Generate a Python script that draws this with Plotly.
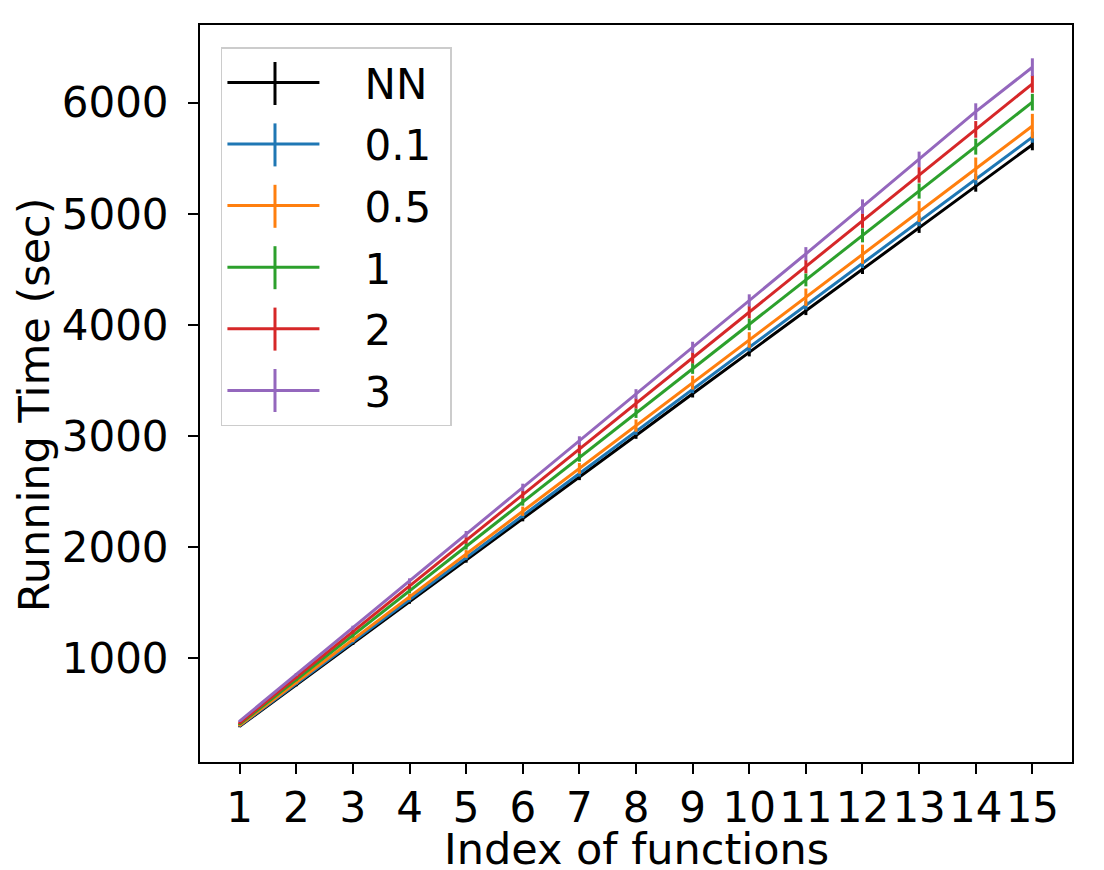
import plotly.graph_objects as go

# Laufzeit je Funktionsindex, eine Linie pro Einstellung (mit Fehlerbalken)
x_idx = list(range(1, 16))

series_names = ["NN", "0.1", "0.5", "1", "2", "3"]

nn_vals = [385, 758, 1133, 1507, 1881, 2256, 2630, 3004, 3379, 3752, 4126, 4500, 4873, 5247, 5622]
v01_vals = [390, 768, 1147, 1525, 1904, 2283, 2661, 3040, 3418, 3797, 4176, 4554, 4933, 5311, 5690]
v05_vals = [395, 781, 1166, 1551, 1937, 2322, 2708, 3093, 3480, 3864, 4249, 4636, 5020, 5405, 5790]
v1_vals = [405, 805, 1205, 1606, 2005, 2405, 2806, 3205, 3607, 4005, 4405, 4806, 5205, 5605, 6005]
v2_vals = [415, 826, 1237, 1648, 2059, 2470, 2881, 3292, 3703, 4114, 4525, 4938, 5350, 5760, 6170]
v3_vals = [432, 852, 1273, 1694, 2115, 2536, 2957, 3376, 3798, 4220, 4640, 5065, 5490, 5920, 6320]

nn_err = [8, 12, 15, 18, 22, 25, 28, 30, 33, 36, 38, 42, 45, 48, 50]
v01_err = [8, 11, 14, 17, 20, 24, 27, 30, 33, 36, 39, 42, 45, 48, 50]
v05_err = [10, 16, 22, 28, 35, 42, 48, 55, 62, 70, 78, 86, 94, 102, 110]
v1_err = [8, 13, 18, 23, 28, 33, 38, 43, 48, 53, 58, 63, 68, 72, 75]
v2_err = [8, 13, 18, 24, 29, 34, 40, 45, 50, 55, 60, 65, 70, 75, 80]
v3_err = [8, 13, 18, 24, 29, 34, 40, 45, 50, 55, 60, 65, 70, 75, 80]

COLORS = ["#000000", "#1f77b4", "#ff7f0e", "#2ca02c", "#d62728", "#9467bd"]
FONT = "DejaVu Sans"
NBSP = "\u00a0"

# Plotflaeche in Pixeln (Figur 1096x862, l=192, t=17)
PLOT_H = 737
LEG_ROW0 = 75.5     # Mitte der ersten Legendenzeile, px ab Figur-Oberkante
LEG_ROW_STEP = 61.4
LEG_X = 0.086       # Mitte der Legenden-Linie (paper)
LEG_BAR = 21.5      # halbe Hoehe des senkrechten Strichs, px

values = [nn_vals, v01_vals, v05_vals, v1_vals, v2_vals, v3_vals]
errors = [nn_err, v01_err, v05_err, v1_err, v2_err, v3_err]

traces = []
shapes = []
for i, (name, vals, err, col) in enumerate(zip(series_names, values, errors, COLORS)):
    traces.append(go.Scatter(
        x=x_idx, y=vals,
        mode="lines",
        line=dict(color=col, width=3),
        error_y=dict(type="data", array=err, visible=True,
                     color=col, thickness=3, width=0),
        showlegend=False,
        name=name,
    ))
    # nur fuer die Legende
    traces.append(go.Scatter(
        x=[None], y=[None],
        mode="lines",
        line=dict(color=col, width=3),
        name=NBSP * 3 + name + NBSP,
        legendgroup=name,
    ))
    # senkrechter Strich im Legendensymbol (wie errorbar bei matplotlib)
    yc = 1 - (LEG_ROW0 + i * LEG_ROW_STEP - 17) / PLOT_H
    shapes.append(dict(
        type="line", xref="paper", yref="paper",
        x0=LEG_X, x1=LEG_X,
        y0=yc - LEG_BAR / PLOT_H, y1=yc + LEG_BAR / PLOT_H,
        line=dict(color=col, width=3),
    ))

fig = go.Figure(data=traces)
fig.update_layout(
    width=1096, height=862,
    margin=dict(l=192, r=32, t=17, b=108),
    paper_bgcolor="white",
    plot_bgcolor="white",
    font=dict(family=FONT, size=42, color="black"),
    shapes=shapes,
    legend=dict(
        x=0.024, y=0.97, xanchor="left", yanchor="top",
        bgcolor="rgba(255,255,255,0)",
        bordercolor="#cccccc", borderwidth=1.5,
        font=dict(family=FONT, size=42, color="black"),
        itemwidth=92, tracegroupgap=4,
    ),
    annotations=[
        dict(text="Index of functions", xref="paper", yref="paper",
             x=0.5, y=-0.082, xanchor="center", yanchor="top",
             showarrow=False, font=dict(family=FONT, size=43)),
        dict(text="Running Time (sec)", xref="paper", yref="paper",
             x=-0.19, y=0.4844, xanchor="center", yanchor="middle",
             textangle=-90, showarrow=False, font=dict(family=FONT, size=43)),
    ],
)
fig.update_xaxes(
    range=[0.3, 15.7],
    tickmode="array", tickvals=x_idx, ticktext=[str(v) for v in x_idx],
    ticks="outside", ticklen=10, tickwidth=2, tickcolor="black",
    ticklabelstandoff=-2,
    showline=True, linecolor="black", linewidth=2, mirror=True,
    showgrid=False, zeroline=False, automargin=False,
)
fig.update_yaxes(
    range=[64, 6700],
    tickvals=[1000, 2000, 3000, 4000, 5000, 6000],
    ticks="outside", ticklen=10, tickwidth=2, tickcolor="black",
    ticklabelstandoff=11,
    showline=True, linecolor="black", linewidth=2, mirror=True,
    showgrid=False, zeroline=False, automargin=False,
)
fig.write_html("out.html")
